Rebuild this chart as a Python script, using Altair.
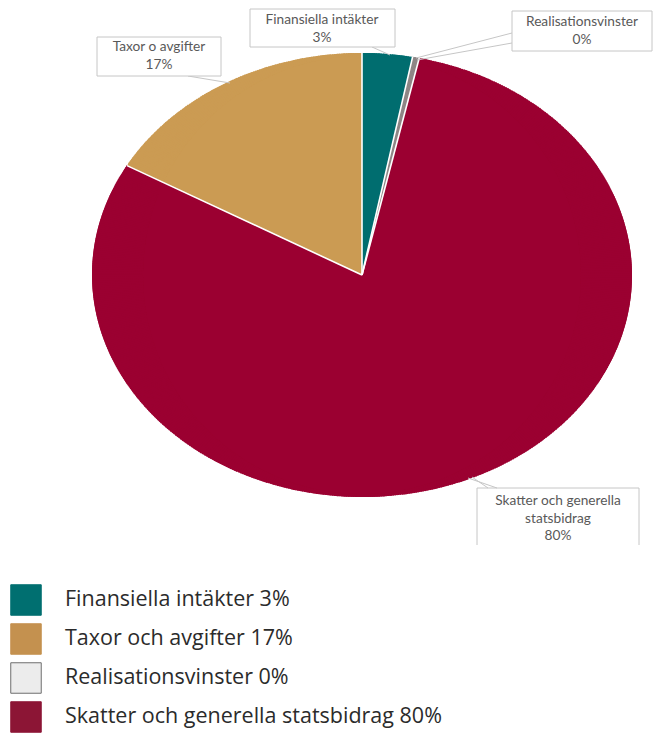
import math
import pandas as pd
import altair as alt

# ---------------- data ----------------
pie_categories = ["Finansiella intäkter", "Realisationsvinster",
                  "Skatter och generella statsbidrag", "Taxor och avgifter"]
pie_values = [3.0, 0.4, 79.8, 16.8]
pie_colors = ["#006d6f", "#8e8585", "#9b0031", "#cb9b53"]
callout_names = ["Finansiella intäkter", "Realisationsvinster",
                 "Skatter och generella\nstatsbidrag", "Taxor o avgifter"]

legend_categories = ["Finansiella intäkter", "Taxor och avgifter",
                     "Realisationsvinster", "Skatter och generella statsbidrag"]
legend_colors = ["#006f70", "#c4914f", "#ececec", "#8c1535"]
legend_strokes = ["#006f70", "#c4914f", "#6e6e6e", "#8c1535"]

# ---------------- layout (pixels) ----------------
OFF = 8
W, H = 645, 725
CX, CY = 362 - OFF, 275 - OFF
RA, RB = 270, 222  # ellipse semi-axes
OVERLAP = 0.008    # radians, hides anti-aliasing seams between sub-wedges

total = sum(pie_values)


def polar(t):
    phi = math.atan2(RA * math.sin(t), RB * math.cos(t))
    if phi < 0:
        phi += 2 * math.pi
    return phi


base_rows = []
rows = []
bounds = []
start = 0.0
for cat, v in zip(pie_categories, pie_values):
    span = v / total * 2 * math.pi
    bounds.append(start)
    n = max(2, int(math.ceil(math.degrees(span) / 0.5)))
    sub = []
    for i in range(n):
        t0 = start + span * i / n
        t1 = start + span * (i + 1) / n
        p0, p1 = polar(t0), polar(t1)
        if p1 < p0:
            p1 += 2 * math.pi
        pm = (p0 + p1) / 2
        r = RA * RB / math.sqrt((RB * math.sin(pm)) ** 2 + (RA * math.cos(pm)) ** 2)
        if i < n - 1:
            p1 += OVERLAP
        sub.append(dict(cat=cat, p0=p0, p1=p1, r=r))
    rmin = min(s["r"] for s in sub)
    base_rows.append(dict(cat=cat, p0=sub[0]["p0"], p1=sub[-1]["p1"], r=rmin))
    for s in sub:
        s["r_in"] = max(0.0, rmin - 3)
        rows.append(s)
    start += span
pie_df = pd.DataFrame(rows)
base_df = pd.DataFrame(base_rows)

sep_df = pd.DataFrame([
    dict(x=CX, y=CY, x2=CX + RA * math.sin(t), y2=CY - RB * math.cos(t))
    for t in bounds
])

fill_enc = alt.Fill("cat:N", scale=alt.Scale(domain=pie_categories, range=pie_colors), legend=None)

pie_base = alt.Chart(base_df).mark_arc().encode(
    x=alt.value(CX), y=alt.value(CY),
    theta=alt.Theta("p0:Q", scale=None),
    theta2="p1:Q",
    radius=alt.Radius("r:Q", scale=None),
    fill=fill_enc,
)

pie_rim = alt.Chart(pie_df).mark_arc().encode(
    x=alt.value(CX), y=alt.value(CY),
    theta=alt.Theta("p0:Q", scale=None),
    theta2="p1:Q",
    radius=alt.Radius("r:Q", scale=None),
    radius2="r_in:Q",
    fill=fill_enc,
)

seps = alt.Chart(sep_df).mark_rule(color="white", strokeWidth=1.6).encode(
    x=alt.X("x:Q", scale=None, axis=None), y=alt.Y("y:Q", scale=None, axis=None),
    x2="x2:Q", y2="y2:Q",
)

# ---------------- callouts ----------------
pct = {c: f"{round(v)}%" for c, v in zip(pie_categories, pie_values)}
call_text = [f"{n}\n{pct[c]}" for n, c in zip(callout_names, pie_categories)]

# box (page coords): x0, y0, x1, y1 ; text centre x, first-line y
call_layout = [
    dict(bx=250, by=9, bx2=395, by2=47, tx=322, ty=20),
    dict(bx=512, by=11, bx2=652, by2=51, tx=582, ty=22),
    dict(bx=477, by=488, bx2=639, by2=545, tx=558, ty=501),
    dict(bx=97, by=37, bx2=221, by2=76, tx=159, ty=47),
]
call_df = pd.DataFrame([
    dict(text=txt, bx=l["bx"] - OFF, by=l["by"] - OFF, bx2=l["bx2"] - OFF, by2=l["by2"] - OFF,
         tx=l["tx"] - OFF, ty=l["ty"] - OFF)
    for txt, l in zip(call_text, call_layout)
])
box_df = call_df[call_df["text"] != call_text[2]]

boxes = alt.Chart(box_df).mark_rect(fill="white", stroke="#c6c6c6", strokeWidth=1).encode(
    x=alt.X("bx:Q", scale=None, axis=None), x2="bx2:Q",
    y=alt.Y("by:Q", scale=None, axis=None), y2="by2:Q",
)

segs = [
    # open-bottomed box for Skatter
    (477, 488, 639, 488), (477, 488, 477, 545), (639, 488, 639, 545),
    # leader lines
    (372, 47, 390, 55),
    (512, 33, 416, 58), (512, 43, 417, 60),
    (468, 478, 497, 488), (472, 477, 488, 488),
    (188, 76, 230, 83),
]
seg_df = pd.DataFrame([dict(x=a - OFF, y=b - OFF, x2=c - OFF, y2=d - OFF) for a, b, c, d in segs])
lines = alt.Chart(seg_df).mark_rule(color="#c6c6c6", strokeWidth=1).encode(
    x=alt.X("x:Q", scale=None, axis=None), y=alt.Y("y:Q", scale=None, axis=None),
    x2="x2:Q", y2="y2:Q",
)

call_labels = alt.Chart(call_df).mark_text(
    font="Lato", fontSize=13.7, color="#595959", lineBreak="\n", lineHeight=17.5,
    align="center", baseline="middle",
).encode(
    x=alt.X("tx:Q", scale=None, axis=None), y=alt.Y("ty:Q", scale=None, axis=None),
    text="text:N",
)

# ---------------- legend ----------------
leg_df = pd.DataFrame(dict(
    cat=legend_categories,
    label=[f"{c} {pct[c]}" for c in legend_categories],
))
leg_y = alt.Y("cat:N", scale=alt.Scale(domain=legend_categories, range=[600 - OFF, 717 - OFF], padding=0),
              axis=None)
leg_sq = alt.Chart(leg_df).mark_square(size=930, opacity=1, strokeWidth=1).encode(
    x=alt.value(26 - OFF), y=leg_y,
    fill=alt.Fill("cat:N", scale=alt.Scale(domain=legend_categories, range=legend_colors), legend=None),
    stroke=alt.Stroke("cat:N", scale=alt.Scale(domain=legend_categories, range=legend_strokes), legend=None),
)
leg_txt = alt.Chart(leg_df).mark_text(
    font="Open Sans", fontSize=21.5, color="#2b2b2b", align="left", baseline="middle",
).encode(x=alt.value(65 - OFF), y=leg_y, text="label:N")

chart = alt.layer(pie_base, pie_rim, seps, lines, boxes, call_labels, leg_sq, leg_txt).resolve_scale(
    x="independent", y="independent", fill="independent", stroke="independent"
).properties(
    width=W, height=H, autosize=alt.AutoSizeParams(type="none"), padding=0,
).configure_view(stroke=None)

chart.save("out.html", embed_options={"renderer": "svg", "actions": False})
